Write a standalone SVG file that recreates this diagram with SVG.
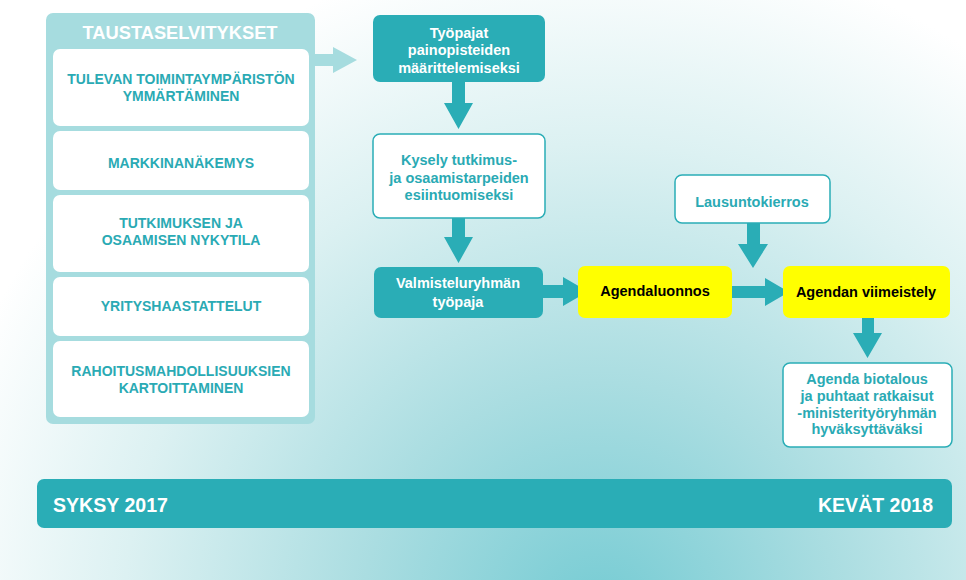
<svg xmlns="http://www.w3.org/2000/svg" width="966" height="580" viewBox="0 0 966 580">
<defs>
<radialGradient id="bg" gradientUnits="userSpaceOnUse" cx="600" cy="620" r="680">
<stop offset="0" stop-color="#74cbd3"/>
<stop offset="0.35" stop-color="#aadde1"/>
<stop offset="0.7" stop-color="#dcf1f2"/>
<stop offset="1" stop-color="#ffffff"/>
</radialGradient>
<style>
.t{font-family:"Liberation Sans",Arial,sans-serif;font-weight:bold;text-anchor:middle}
.up{font-size:14px;fill:#2aaab4}
.w{font-size:14.5px;fill:#ffffff}
.tl{font-size:14.5px;fill:#2aaab4}
.k{font-size:14.5px;fill:#000000}
.teal{fill:#2aadb6}
.wb{fill:#ffffff;stroke:#2aadb6;stroke-width:1.5}
.yb{fill:#ffff00}
.arr{fill:#2aadb6}
</style>
</defs>
<rect width="966" height="580" fill="url(#bg)"/>

<g id="taustaselvitykset">
<rect x="46" y="13" width="269" height="411" rx="7" fill="#a6dcdf"/>
<text class="t" x="180" y="39" font-size="18" fill="#ffffff" textLength="195" lengthAdjust="spacingAndGlyphs">TAUSTASELVITYKSET</text>
</g>
<g id="tausta1">
<rect x="53" y="49" width="256" height="77" rx="7" fill="#ffffff"/>
<text class="t up" x="181" y="84">TULEVAN TOIMINTAYMPÄRISTÖN</text>
<text class="t up" x="181" y="101">YMMÄRTÄMINEN</text>
</g>
<g id="tausta2">
<rect x="53" y="131" width="256" height="59" rx="7" fill="#ffffff"/>
<text class="t up" x="181" y="168">MARKKINANÄKEMYS</text>
</g>
<g id="tausta3">
<rect x="53" y="195" width="256" height="77" rx="7" fill="#ffffff"/>
<text class="t up" x="181" y="228">TUTKIMUKSEN JA</text>
<text class="t up" x="181" y="245">OSAAMISEN NYKYTILA</text>
</g>
<g id="tausta4">
<rect x="53" y="277" width="256" height="59" rx="7" fill="#ffffff"/>
<text class="t up" x="181" y="311">YRITYSHAASTATTELUT</text>
</g>
<g id="tausta5">
<rect x="53" y="341" width="256" height="76" rx="7" fill="#ffffff"/>
<text class="t up" x="181" y="376">RAHOITUSMAHDOLLISUUKSIEN</text>
<text class="t up" x="181" y="393">KARTOITTAMINEN</text>
</g>

<g id="connectors">
<polygon points="315,54 333,54 333,47 357,60 333,73 333,66 315,66" fill="#a6dcdf"/>
<polygon class="arr" points="452,82 465,82 465,103 473,103 458.5,129 444,103 452,103"/>
<polygon class="arr" points="452,218 465,218 465,237 473,237 458.5,263 444,237 452,237"/>
<polygon class="arr" points="543,285 563,285 563,277 588,291.5 563,306 563,298 543,298"/>
<polygon class="arr" points="732,286 765,286 765,278 789,292 765,306 765,298 732,298"/>
<polygon class="arr" points="747,223 760,223 760,244 768,244 753,268 738,244 747,244"/>
<polygon class="arr" points="862,318 874,318 874,333 882,333 867.5,358 853,333 862,333"/>
</g>

<g id="tyopajat">
<rect class="teal" x="373" y="15" width="172" height="67" rx="7"/>
<text class="t w" x="459" y="38">Työpajat</text>
<text class="t w" x="459" y="55">painopisteiden</text>
<text class="t w" x="459" y="73">määrittelemiseksi</text>
</g>
<g id="kysely">
<rect class="wb" x="373" y="134" width="172" height="84" rx="7"/>
<text class="t tl" x="459" y="165">Kysely tutkimus-</text>
<text class="t tl" x="459" y="183">ja osaamistarpeiden</text>
<text class="t tl" x="459" y="200">esiintuomiseksi</text>
</g>
<g id="valmistelu">
<rect class="teal" x="374" y="267" width="169" height="51" rx="7"/>
<text class="t w" x="458" y="288">Valmisteluryhmän</text>
<text class="t w" x="458" y="307">työpaja</text>
</g>
<g id="agendaluonnos">
<rect class="yb" x="578" y="266" width="154" height="52" rx="7"/>
<text class="t k" x="655" y="296">Agendaluonnos</text>
</g>
<g id="lausunto">
<rect class="wb" x="675" y="175" width="155" height="48" rx="7"/>
<text class="t tl" x="752" y="207">Lausuntokierros</text>
</g>
<g id="viimeistely">
<rect class="yb" x="783" y="266" width="167" height="52" rx="7"/>
<text class="t k" x="866" y="297">Agendan viimeistely</text>
</g>
<g id="hyvaksytys">
<rect class="wb" x="783" y="363" width="169" height="84" rx="7"/>
<text class="t tl" x="867" y="384">Agenda biotalous</text>
<text class="t tl" x="867" y="401">ja puhtaat ratkaisut</text>
<text class="t tl" x="867" y="418">-ministerityöryhmän</text>
<text class="t tl" x="867" y="434">hyväksyttäväksi</text>
</g>

<g id="aikajana">
<rect class="teal" x="37" y="479" width="915" height="49" rx="7"/>
<text class="t" x="53" y="512" font-size="20" fill="#ffffff" text-anchor="start" style="text-anchor:start" textLength="115" lengthAdjust="spacingAndGlyphs">SYKSY 2017</text>
<text class="t" x="933" y="512" font-size="20" fill="#ffffff" style="text-anchor:end" textLength="115" lengthAdjust="spacingAndGlyphs">KEVÄT 2018</text>
</g>
</svg>
